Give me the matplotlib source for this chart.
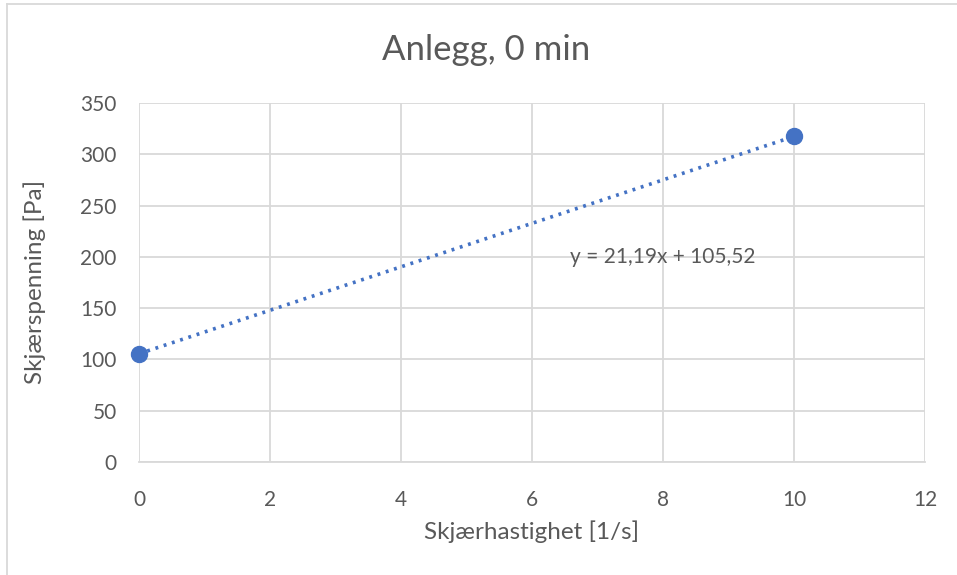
import matplotlib
matplotlib.use("Agg")
import matplotlib.pyplot as plt
import numpy as np

x_vals = [0, 10]
y_vals = [105.52, 317.42]
slope = 21.19
intercept = 105.52
x_ticks = [0, 2, 4, 6, 8, 10, 12]
y_ticks = [0, 50, 100, 150, 200, 250, 300, 350]
title = "Anlegg, 0 min"
xlabel = "Skjærhastighet [1/s]"
ylabel = "Skjærspenning [Pa]"
eq_text = "y = 21,19x + 105,52"

plt.rcParams['font.family'] = ['Lato', 'DejaVu Sans']
txt = '#595959'
grid = '#d9d9d9'
blue = '#4472C4'

fig = plt.figure(figsize=(9.57, 5.75), dpi=100)
ax = fig.add_axes([139/957, 1-462/575, (925-139)/957, (462-103)/575])

ax.set_xlim(0, 12)
ax.set_ylim(0, 350)
ax.set_xticks(x_ticks)
ax.set_yticks(y_ticks)
ax.grid(True, color=grid, linewidth=1.3)
ax.set_axisbelow(True)
for s in ax.spines.values():
    s.set_visible(False)
ax.spines['bottom'].set_visible(True)
ax.spines['bottom'].set_color(grid)
ax.spines['bottom'].set_linewidth(1.3)
ax.tick_params(length=0, labelsize=15, labelcolor=txt)
ax.tick_params(axis='y', pad=16)
ax.tick_params(axis='x', pad=20)

xt = np.array([0, 10])
ax.plot(xt, slope * xt + intercept, linestyle=(0, (0.8, 1.6)), color=blue, linewidth=2.6, zorder=3)
ax.plot(x_vals, y_vals, 'o', color=blue, markersize=11.5, zorder=4, clip_on=False)

ax.text(6.58, 200, eq_text, fontsize=15, color=txt, va='center', ha='left')

fig.text(486/957, 1-50/575, title, fontsize=25, color=txt, ha='center', va='center')
fig.text(532/957, 1-532/575, xlabel, fontsize=17.5, color=txt, ha='center', va='center')
fig.text(35/957, 1-282/575, ylabel, fontsize=17.5, color=txt, ha='center', va='center', rotation=90)

fig.add_artist(plt.Line2D([6.5/957, 6.5/957], [0, 1-4/575], color=grid, linewidth=1.3))
fig.add_artist(plt.Line2D([6.5/957, 1], [1-4/575, 1-4/575], color=grid, linewidth=1.3))

fig.savefig("out.png", dpi=100, facecolor='white')
